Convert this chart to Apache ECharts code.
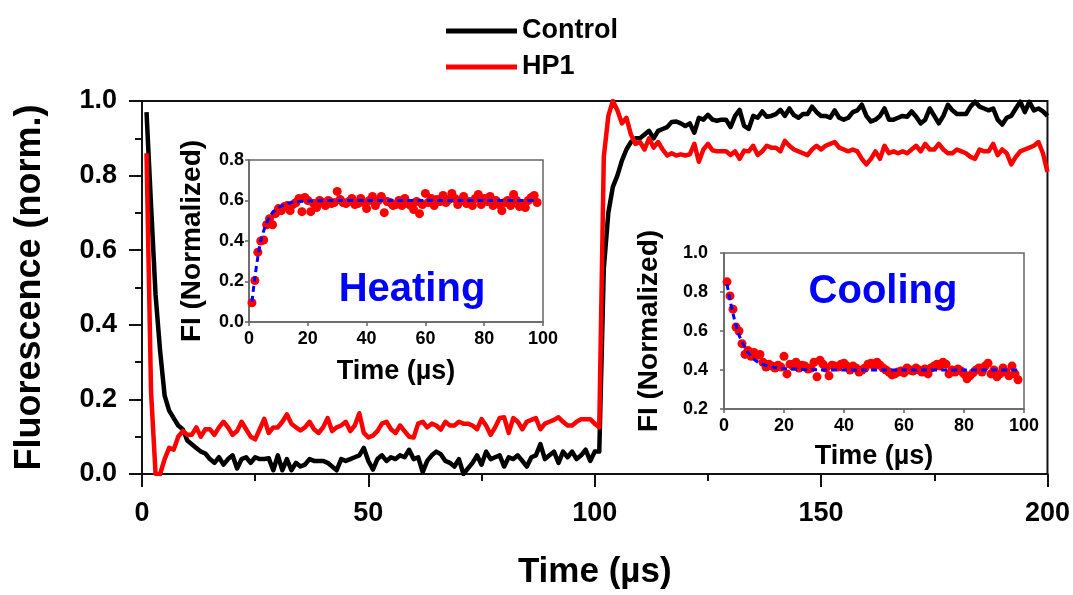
<!DOCTYPE html>
<html>
<head>
<meta charset="utf-8">
<script src="https://cdn.jsdelivr.net/npm/echarts@6/dist/echarts.min.js"></script>
<style>
  html, body { margin: 0; padding: 0; background: #fff; }
  #chart { width: 1073px; height: 595px; }
</style>
</head>
<body>
<div id="chart"></div>
<script>
// Main trace: fluorescence sampled every 1 µs from 1 to 200 µs
const mainTimes = Array.from({ length: 200 }, (_, i) => i + 1);

const controlValues = [
  0.97, 0.72, 0.48, 0.33, 0.21, 0.17, 0.15, 0.13, 0.12, 0.09,
  0.08, 0.07, 0.06, 0.055, 0.04, 0.03, 0.045, 0.025, 0.04, 0.05,
  0.015, 0.04, 0.045, 0.03, 0.045, 0.04, 0.04, 0.042, 0.01, 0.05,
  0.01, 0.04, 0.01, 0.03, 0.02, 0.025, 0.04, 0.035, 0.035, 0.035,
  0.03, 0.02, 0.01, 0.04, 0.035, 0.04, 0.045, 0.05, 0.07, 0.035,
  0.012, 0.04, 0.05, 0.035, 0.045, 0.04, 0.05, 0.045, 0.065, 0.04,
  0.045, 0.005, 0.035, 0.05, 0.06, 0.053, 0.035, 0.03, 0.02, 0.04,
  0.0, 0.015, 0.03, 0.05, 0.025, 0.06, 0.04, 0.045, 0.05, 0.02,
  0.045, 0.04, 0.05, 0.035, 0.02, 0.045, 0.05, 0.08, 0.04, 0.05,
  0.06, 0.03, 0.06, 0.045, 0.06, 0.04, 0.05, 0.065, 0.035, 0.06,
  0.06, 0.55, 0.70, 0.77, 0.80, 0.84, 0.87, 0.89, 0.90, 0.90,
  0.91, 0.92, 0.90, 0.92, 0.925, 0.93, 0.944, 0.945, 0.94, 0.933,
  0.94, 0.915, 0.955, 0.95, 0.963, 0.95, 0.947, 0.95, 0.95, 0.93,
  0.96, 0.976, 0.933, 0.925, 0.96, 0.955, 0.972, 0.958, 0.96, 0.965,
  0.976, 0.96, 0.98, 0.962, 0.955, 0.965, 0.965, 0.985, 0.97, 0.96,
  0.96, 0.955, 0.975, 0.955, 0.95, 0.955, 0.97, 0.975, 0.99, 0.96,
  0.945, 0.95, 0.96, 0.98, 0.95, 0.95, 0.955, 0.96, 0.958, 0.972,
  0.958, 0.94, 0.95, 0.98, 0.96, 0.94, 0.96, 0.99, 0.975, 0.965,
  0.965, 0.965, 0.985, 0.998, 0.985, 0.98, 0.975, 0.98, 0.95, 0.937,
  0.955, 0.96, 0.98, 0.998, 0.97, 0.998, 0.975, 0.98, 0.972, 0.96
];

const hp1Values = [
  0.86, 0.22, 0.0, 0.0, 0.04, 0.07, 0.065, 0.10, 0.115, 0.105,
  0.105, 0.125, 0.10, 0.12, 0.12, 0.105, 0.125, 0.14, 0.125, 0.105,
  0.115, 0.14, 0.12, 0.10, 0.093, 0.12, 0.148, 0.11, 0.125, 0.125,
  0.14, 0.16, 0.135, 0.125, 0.117, 0.125, 0.14, 0.12, 0.11, 0.125,
  0.15, 0.115, 0.125, 0.13, 0.14, 0.115, 0.13, 0.163, 0.11, 0.098,
  0.103, 0.115, 0.135, 0.14, 0.12, 0.11, 0.13, 0.115, 0.10, 0.098,
  0.135, 0.14, 0.125, 0.135, 0.13, 0.119, 0.14, 0.13, 0.13, 0.14,
  0.135, 0.135, 0.13, 0.12, 0.147, 0.13, 0.105, 0.125, 0.15, 0.152,
  0.11, 0.15, 0.14, 0.12, 0.14, 0.145, 0.15, 0.12, 0.135, 0.14,
  0.145, 0.152, 0.14, 0.13, 0.13, 0.14, 0.147, 0.147, 0.147, 0.135,
  0.125, 0.85, 0.96, 1.0, 0.975, 0.94, 0.955, 0.91, 0.885, 0.89,
  0.87, 0.90, 0.875, 0.89, 0.87, 0.854, 0.86, 0.854, 0.857, 0.854,
  0.857, 0.885, 0.837, 0.87, 0.885, 0.868, 0.865, 0.865, 0.865, 0.855,
  0.865, 0.845, 0.867, 0.865, 0.88, 0.855, 0.865, 0.88, 0.875, 0.875,
  0.865, 0.893, 0.88, 0.87, 0.865, 0.86, 0.855, 0.87, 0.88, 0.87,
  0.88, 0.885, 0.89, 0.875, 0.87, 0.865, 0.87, 0.865, 0.845, 0.83,
  0.845, 0.865, 0.845, 0.88, 0.86, 0.865, 0.86, 0.865, 0.86, 0.87,
  0.88, 0.865, 0.885, 0.87, 0.87, 0.885, 0.87, 0.86, 0.86, 0.87,
  0.865, 0.86, 0.85, 0.845, 0.87, 0.865, 0.865, 0.885, 0.855, 0.87,
  0.86, 0.83, 0.85, 0.865, 0.87, 0.875, 0.88, 0.89, 0.86, 0.81
];

// Inset measurements, one point per µs from 1 to 98
const insetTimes = Array.from({ length: 98 }, (_, i) => i + 1);

const heatingValues = [
  0.095, 0.205, 0.345, 0.40, 0.405, 0.48, 0.51, 0.48, 0.535, 0.56,
  0.55, 0.57, 0.575, 0.55, 0.58, 0.59, 0.61, 0.545, 0.615, 0.60,
  0.545, 0.585, 0.565, 0.60, 0.59, 0.575, 0.60, 0.585, 0.59, 0.645,
  0.605, 0.59, 0.585, 0.595, 0.61, 0.58, 0.585, 0.61, 0.59, 0.56,
  0.60, 0.62, 0.575, 0.60, 0.62, 0.54, 0.595, 0.59, 0.575, 0.58,
  0.60, 0.575, 0.61, 0.585, 0.575, 0.555, 0.595, 0.535, 0.58, 0.635,
  0.59, 0.61, 0.575, 0.605, 0.595, 0.625, 0.59, 0.605, 0.635, 0.61,
  0.58, 0.60, 0.62, 0.585, 0.595, 0.575, 0.61, 0.63, 0.58, 0.61,
  0.595, 0.62, 0.575, 0.60, 0.58, 0.55, 0.59, 0.60, 0.575, 0.63,
  0.60, 0.57, 0.585, 0.565, 0.60, 0.615, 0.625, 0.59
];

const coolingValues = [
  0.852, 0.78, 0.712, 0.62, 0.60, 0.535, 0.48, 0.50, 0.47, 0.49,
  0.475, 0.48, 0.44, 0.415, 0.43, 0.42, 0.41, 0.425, 0.415, 0.47,
  0.38, 0.43, 0.42, 0.44, 0.41, 0.425, 0.42, 0.405, 0.41, 0.44,
  0.365, 0.45, 0.43, 0.41, 0.37, 0.425, 0.42, 0.415, 0.43, 0.435,
  0.42, 0.40, 0.42, 0.41, 0.39, 0.40, 0.41, 0.43, 0.435, 0.42,
  0.44, 0.425, 0.41, 0.40, 0.39, 0.375, 0.38, 0.39, 0.395, 0.385,
  0.41, 0.40, 0.395, 0.41, 0.40, 0.39, 0.405, 0.38, 0.41, 0.42,
  0.43, 0.42, 0.44, 0.43, 0.38, 0.40, 0.39, 0.405, 0.395, 0.38,
  0.355, 0.37, 0.385, 0.40, 0.41, 0.39, 0.42, 0.435, 0.38, 0.40,
  0.365, 0.38, 0.41, 0.39, 0.37, 0.42, 0.38, 0.35
];

// Fitted curves drawn as dashed lines
const fitTimes = [1, 2, 3, 4, 5, 6, 7, 8, 10, 12, 14, 16, 20, 25, 30, 40, 60, 80, 98];
const heatingFit = [0.10, 0.22, 0.32, 0.40, 0.45, 0.49, 0.52, 0.54, 0.565, 0.58,
  0.588, 0.593, 0.597, 0.599, 0.60, 0.60, 0.60, 0.60, 0.60];
const coolingFit = [0.84, 0.76, 0.69, 0.63, 0.58, 0.545, 0.515, 0.49, 0.455, 0.435,
  0.423, 0.415, 0.407, 0.403, 0.401, 0.40, 0.40, 0.40, 0.40];

const seriesNames = ['Control', 'HP1'];
const insetLabels = ['Heating', 'Cooling'];

const FONT = '"Liberation Sans", Arial, sans-serif';
const pair = (xs, ys) => xs.map((x, i) => [x, ys[i]]);

const chart = echarts.init(document.getElementById('chart'), null, { renderer: 'canvas' });

const boldText = (size, color) => ({ fontFamily: FONT, fontWeight: 'bold', fontSize: size, color: color || '#000' });

function mainAxisStyle() {
  return {
    axisLine: { show: true, lineStyle: { color: '#111', width: 2 } },
    axisTick: { show: true, inside: false, length: 13, lineStyle: { color: '#111', width: 2 } },
    minorTick: { show: true, splitNumber: 2, length: 7, lineStyle: { color: '#111', width: 2 } },
    splitLine: { show: false }
  };
}

function insetAxisStyle() {
  return {
    axisLine: { show: true, lineStyle: { color: '#666', width: 1.5 } },
    axisTick: { show: true, inside: false, length: 4, lineStyle: { color: '#666', width: 1.5 } },
    splitLine: { show: false }
  };
}

const option = {
  backgroundColor: '#fff',
  animation: false,
  legend: {
    data: seriesNames,
    orient: 'vertical',
    left: 441,
    top: 11,
    icon: 'rect',
    itemWidth: 71,
    itemHeight: 5,
    itemGap: 6,
    textStyle: Object.assign(boldText(27), { lineHeight: 30 })
  },
  grid: [
    { left: 142, top: 101, width: 906, height: 381, show: true, borderColor: '#111', borderWidth: 2, containLabel: false },
    { left: 249, top: 160, width: 294, height: 162, show: true, borderColor: '#666', borderWidth: 1.5, backgroundColor: '#fff' },
    { left: 724, top: 253, width: 300, height: 156, show: true, borderColor: '#666', borderWidth: 1.5, backgroundColor: '#fff' }
  ],
  xAxis: [
    Object.assign({
      gridIndex: 0, type: 'value', min: 0, max: 200, interval: 50,
      name: 'Time (µs)', nameLocation: 'middle', nameGap: 81,
      nameTextStyle: boldText(35),
      axisLabel: Object.assign(boldText(27), { margin: 26 })
    }, mainAxisStyle()),
    Object.assign({
      gridIndex: 1, type: 'value', min: 0, max: 100, interval: 20,
      name: 'Time (µs)', nameLocation: 'middle', nameGap: 36,
      nameTextStyle: boldText(27),
      axisLabel: Object.assign(boldText(18), { margin: 8 })
    }, insetAxisStyle()),
    Object.assign({
      gridIndex: 2, type: 'value', min: 0, max: 100, interval: 20,
      name: 'Time (µs)', nameLocation: 'middle', nameGap: 34,
      nameTextStyle: boldText(27),
      axisLabel: Object.assign(boldText(18), { margin: 8 })
    }, insetAxisStyle())
  ],
  yAxis: [
    Object.assign({
      gridIndex: 0, type: 'value', min: 0, max: 1, interval: 0.2,
      name: 'Fluorescence (norm.)', nameLocation: 'middle', nameGap: 94,
      nameTextStyle: boldText(36),
      axisLabel: Object.assign(boldText(27), { margin: 25, formatter: v => v.toFixed(1) })
    }, mainAxisStyle()),
    Object.assign({
      gridIndex: 1, type: 'value', min: 0, max: 0.8, interval: 0.2,
      name: 'FI (Normalized)', nameLocation: 'middle', nameGap: 43,
      nameTextStyle: boldText(28),
      axisLabel: Object.assign(boldText(18), { margin: 5, formatter: v => v.toFixed(1) })
    }, insetAxisStyle()),
    Object.assign({
      gridIndex: 2, type: 'value', min: 0.2, max: 1.0, interval: 0.2,
      name: 'FI (Normalized)', nameLocation: 'middle', nameGap: 61,
      nameTextStyle: boldText(28),
      axisLabel: Object.assign(boldText(18), { margin: 16, formatter: v => v.toFixed(1) })
    }, insetAxisStyle())
  ],
  series: [
    {
      name: seriesNames[0], type: 'line', xAxisIndex: 0, yAxisIndex: 0,
      data: pair(mainTimes, controlValues), showSymbol: false, symbol: 'none',
      lineStyle: { color: '#000', width: 4.5, join: 'round' }, itemStyle: { color: '#000' }, z: 2
    },
    {
      name: seriesNames[1], type: 'line', xAxisIndex: 0, yAxisIndex: 0,
      data: pair(mainTimes, hp1Values), showSymbol: false, symbol: 'none',
      lineStyle: { color: '#ff0000', width: 4.5, join: 'round' }, itemStyle: { color: '#ff0000' }, z: 3
    },
    {
      name: insetLabels[0] + ' data', type: 'scatter', xAxisIndex: 1, yAxisIndex: 1,
      data: pair(insetTimes, heatingValues), symbolSize: 9,
      itemStyle: { color: '#ff0000', opacity: 1 }, z: 5
    },
    {
      name: insetLabels[0] + ' fit', type: 'line', xAxisIndex: 1, yAxisIndex: 1,
      data: pair(fitTimes, heatingFit), smooth: 0.3, showSymbol: false, symbol: 'none',
      lineStyle: { color: '#0000ff', width: 3, type: [6, 4] }, z: 6
    },
    {
      name: insetLabels[1] + ' data', type: 'scatter', xAxisIndex: 2, yAxisIndex: 2,
      data: pair(insetTimes, coolingValues), symbolSize: 9,
      itemStyle: { color: '#ff0000', opacity: 1 }, z: 5
    },
    {
      name: insetLabels[1] + ' fit', type: 'line', xAxisIndex: 2, yAxisIndex: 2,
      data: pair(fitTimes, coolingFit), smooth: 0.3, showSymbol: false, symbol: 'none',
      lineStyle: { color: '#0000ff', width: 3, type: [6, 4] }, z: 6
    }
  ],
  graphic: [
    {
      type: 'text', x: 412, y: 290, z: 100,
      style: { text: insetLabels[0], align: 'center', verticalAlign: 'middle',
        font: 'bold 40px ' + FONT, fill: '#0000ff' }
    },
    {
      type: 'text', x: 883, y: 292, z: 100,
      style: { text: insetLabels[1], align: 'center', verticalAlign: 'middle',
        font: 'bold 40px ' + FONT, fill: '#0000ff' }
    }
  ]
};

chart.setOption(option);
</script>
</body>
</html>
